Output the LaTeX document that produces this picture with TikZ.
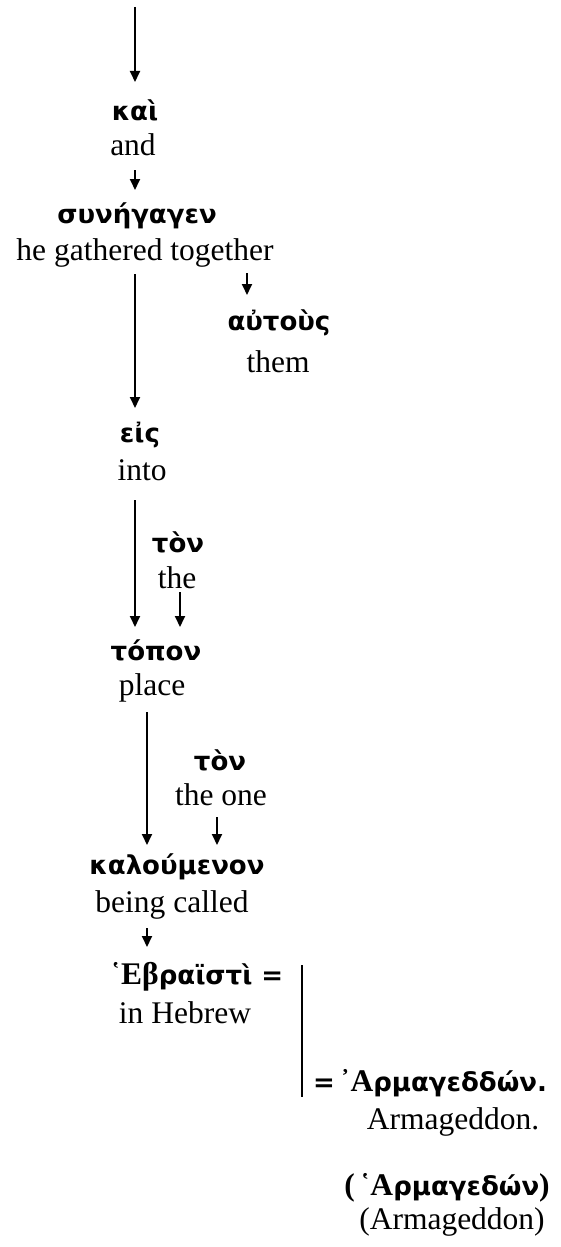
\documentclass[tikz,border=0pt]{standalone}
\usepackage{fontspec}
\setmainfont{Liberation Serif}
\newfontfamily\grs{DejaVu Sans}
\newfontfamily\grc{Liberation Serif}
\usetikzlibrary{arrows.meta}
\newcommand{\G}[1]{{\grs\bfseries\fontsize{26}{30}\selectfont #1}}
\newcommand{\GC}[1]{{\grc\bfseries\fontsize{31.5}{36}\selectfont #1}}
\tikzset{
  en/.style={inner sep=0pt, font=\fontsize{31.5}{36}\selectfont},
  gk/.style={inner sep=0pt},
  arr/.style={line width=1.8pt, -{Triangle[length=11pt,width=10pt]}},
  bar/.style={line width=1.8pt}
}
\begin{document}
\begin{tikzpicture}[x=1pt,y=-1pt]
\useasboundingbox (0,0) rectangle (560,1247);
% nodes
\node[gk] (kai) at (135,110) {\G{καὶ}};
\node[en] (and) at (133,145) {and};
\node[gk] (syn) at (137,216) {\G{συνήγαγεν}};
\node[en] (hgt) at (145,253) {he gathered together};
\node[gk] (aut) at (279,323) {\G{αὐτοὺς}};
\node[en] (them) at (278,362) {them};
\node[gk] (eis) at (140,435) {\G{εἰς}};
\node[en] (into) at (142,470) {into};
\node[gk] (ton1) at (178,542) {\G{τὸν}};
\node[en] (the) at (177,578) {the};
\node[gk] (topon) at (156,650) {\G{τόπον}};
\node[en] (place) at (152,688) {place};
\node[gk] (ton2) at (220,760) {\G{τὸν}};
\node[en] (theone) at (221,795) {the one};
\node[gk] (kal) at (177,867) {\G{καλούμενον}};
\node[en] (being) at (172,905) {being called};
\node[gk] (hebr) at (197,977) {\GC{῾Εβ}\G{ραϊστὶ =}};
\node[en] (inheb) at (185,1013) {in Hebrew};
\node[gk] (arm) at (430,1083) {\G{=}\GC{\,᾿Α}\G{ρμαγεδδών.}};
\node[en] (armen) at (453,1122) {Armageddon.};
\node[gk] (arm2) at (447,1188) {\GC{(\,῾Α}\G{ρμαγεδών}\GC{)}};
\node[en] (armen2) at (452,1222) {(Armageddon)};
% connector points
\coordinate (top) at (135,7);
\coordinate (k1) at (135,82);
\coordinate (a1) at (135,170);
\coordinate (s1) at (135,190);
\coordinate (h1) at (135,274);
\coordinate (e1) at (135,408);
\coordinate (h2) at (247,273);
\coordinate (u1) at (247,295);
\coordinate (i1) at (135,500);
\coordinate (t1) at (135,627);
\coordinate (th1) at (180,592);
\coordinate (t2) at (180,627);
\coordinate (p1) at (147,712);
\coordinate (k2) at (147,845);
\coordinate (o1) at (217,817);
\coordinate (k3) at (217,845);
\coordinate (b1) at (147,928);
\coordinate (hb1) at (147,947);
\coordinate (v1) at (302,965);
\coordinate (v2) at (302,1097);
% connectors
\draw[arr] (top) -- (k1);
\draw[arr] (a1) -- (s1);
\draw[arr] (h1) -- (e1);
\draw[arr] (h2) -- (u1);
\draw[arr] (i1) -- (t1);
\draw[arr] (th1) -- (t2);
\draw[arr] (p1) -- (k2);
\draw[arr] (o1) -- (k3);
\draw[arr] (b1) -- (hb1);
\draw[bar] (v1) -- (v2);
\end{tikzpicture}
\end{document}
